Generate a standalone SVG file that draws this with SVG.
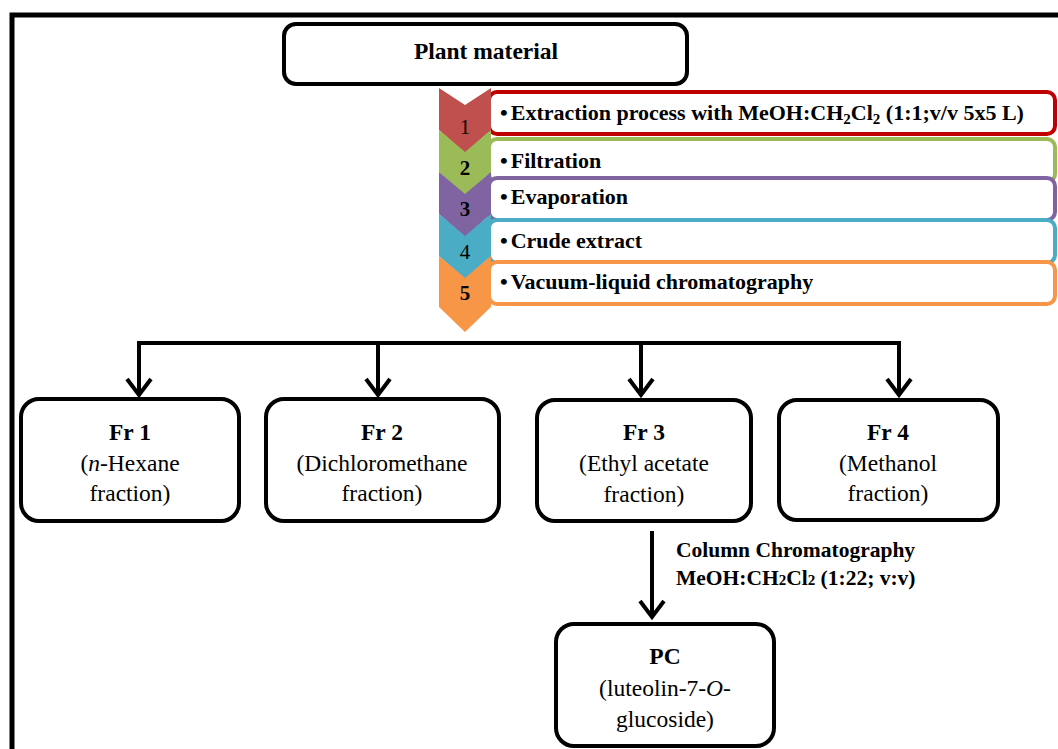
<svg xmlns="http://www.w3.org/2000/svg" width="1058" height="749" viewBox="0 0 1058 749">
<defs>
<style>
.node{fill:#fff;stroke:#000;stroke-width:4}
.t{font-family:"Liberation Serif","Times New Roman",serif;font-size:23.5px;fill:#000}
.b{font-weight:bold}
.st{font-family:"Liberation Serif","Times New Roman",serif;font-size:22px;font-weight:bold;fill:#000}
.cc{font-family:"Liberation Serif","Times New Roman",serif;font-size:21.5px;font-weight:bold;fill:#000}
.num{font-family:"Liberation Serif","Times New Roman",serif;font-size:21px;fill:#000}
.conn{fill:none;stroke:#000;stroke-width:4}
.head{fill:none;stroke:#000;stroke-width:4;stroke-linejoin:miter}
.sb{fill:#fff;stroke-width:4}
</style>
</defs>
<rect width="1058" height="749" fill="#fff"/>
<path d="M12,749 V15 H1058" fill="none" stroke="#000" stroke-width="5"/>

<g id="plant">
<rect class="node" x="284" y="24" width="403" height="60" rx="12"/>
<text class="t b" x="486" y="59" text-anchor="middle">Plant material</text>
</g>

<g id="steps">
<g id="step1-box"><rect class="sb" x="489" y="92" width="566" height="42" rx="8" stroke="#c00000"/>
<text class="st" x="500" y="120">•<tspan dx="3">Extraction process with MeOH:CH</tspan><tspan font-size="15" dy="4">2</tspan><tspan dy="-4">Cl</tspan><tspan font-size="15" dy="4">2</tspan><tspan dy="-4"> (1:1;v/v 5x5 L)</tspan></text></g>
<g id="step2-box"><rect class="sb" x="489" y="139" width="566" height="43" rx="8" stroke="#9bbb59"/>
<text class="st" x="500" y="168">•<tspan dx="3">Filtration</tspan></text></g>
<g id="step3-box"><rect class="sb" x="489" y="178" width="566" height="42" rx="8" stroke="#8064a2"/>
<text class="st" x="500" y="204">•<tspan dx="3">Evaporation</tspan></text></g>
<g id="step4-box"><rect class="sb" x="489" y="220" width="566" height="43" rx="8" stroke="#4bacc6"/>
<text class="st" x="500" y="248">•<tspan dx="3">Crude extract</tspan></text></g>
<g id="step5-box"><rect class="sb" x="489" y="262" width="566" height="42" rx="8" stroke="#f79646"/>
<text class="st" x="500" y="289">•<tspan dx="3">Vacuum-liquid chromatography</tspan></text></g>

<g id="chev1"><polygon points="439,88 465,105 491,88 491,130 465,153 439,130" fill="#c0504d"/>
<text class="num" x="465" y="134" text-anchor="middle">1</text></g>
<g id="chev2"><polygon points="439,130 465,152 491,130 491,172 465,195 439,172" fill="#9bbb59"/>
<text class="num b" x="465" y="175" text-anchor="middle">2</text></g>
<g id="chev3"><polygon points="439,172 465,194 491,172 491,214 465,237 439,214" fill="#8064a2"/>
<text class="num b" x="465" y="216" text-anchor="middle">3</text></g>
<g id="chev4"><polygon points="439,214 465,236 491,214 491,256 465,279 439,256" fill="#4bacc6"/>
<text class="num" x="465" y="259" text-anchor="middle">4</text></g>
<g id="chev5"><polygon points="439,256 465,278 491,256 491,307 465,332 439,307" fill="#f79646"/>
<text class="num b" x="465" y="300" text-anchor="middle">5</text></g>
</g>

<g id="connectors">
<path class="conn" d="M139,343 H899"/>
<path class="conn" d="M139,341 V394 M378,343 V394 M641,343 V394 M899,341 V394"/>
<path class="head" d="M127,379 L139,395 L151,379 M366,379 L378,395 L390,379 M629,379 L641,395 L653,379 M887,379 L899,395 L911,379"/>
<path class="conn" d="M652,531 V617"/>
<path class="head" d="M640,601 L652,617 L664,601"/>
</g>

<g id="fr1">
<rect class="node" x="21" y="399" width="218" height="122" rx="18"/>
<text class="t b" x="130" y="440" text-anchor="middle">Fr 1</text>
<text class="t" x="130" y="471" text-anchor="middle">(<tspan font-style="italic">n</tspan>-Hexane</text>
<text class="t" x="130" y="501" text-anchor="middle">fraction)</text>
</g>
<g id="fr2">
<rect class="node" x="266" y="399" width="233" height="122" rx="18"/>
<text class="t b" x="382" y="440" text-anchor="middle">Fr 2</text>
<text class="t" x="382" y="471" text-anchor="middle">(Dichloromethane</text>
<text class="t" x="382" y="501" text-anchor="middle">fraction)</text>
</g>
<g id="fr3">
<rect class="node" x="537" y="400" width="214" height="121" rx="18"/>
<text class="t b" x="644" y="440" text-anchor="middle">Fr 3</text>
<text class="t" x="644" y="471" text-anchor="middle">(Ethyl acetate</text>
<text class="t" x="644" y="502" text-anchor="middle">fraction)</text>
</g>
<g id="fr4">
<rect class="node" x="779" y="400" width="219" height="120" rx="18"/>
<text class="t b" x="888" y="440" text-anchor="middle">Fr 4</text>
<text class="t" x="888" y="471" text-anchor="middle">(Methanol</text>
<text class="t" x="888" y="501" text-anchor="middle">fraction)</text>
</g>

<g id="cc-label">
<text class="cc" x="676" y="557">Column Chromatography</text>
<text class="cc" x="676" y="585">MeOH:CH<tspan font-size="15">2</tspan>Cl<tspan font-size="15">2</tspan> (1:22; v:v)</text>
</g>

<g id="pc">
<rect class="node" x="556" y="624" width="218" height="122" rx="18"/>
<text class="t b" x="665" y="664" text-anchor="middle">PC</text>
<text class="t" x="665" y="696" text-anchor="middle">(luteolin-7-<tspan font-style="italic">O</tspan>-</text>
<text class="t" x="665" y="727" text-anchor="middle">glucoside)</text>
</g>
</svg>
